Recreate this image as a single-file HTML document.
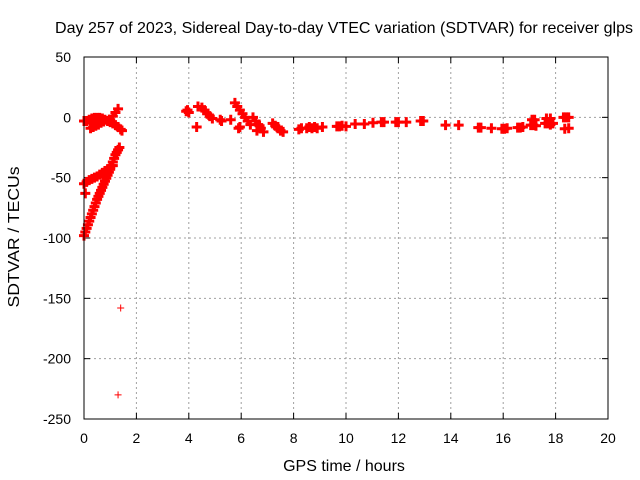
<!DOCTYPE html>
<html><head><meta charset="utf-8"><style>
body{margin:0;background:#fff}
svg{display:block;font-family:"Liberation Sans",Arial,sans-serif}
</style></head><body>
<svg id="chart" width="640" height="480" viewBox="0 0 640 480">
<rect width="640" height="480" fill="#fff"/>
<text x="344" y="33" font-size="16" text-anchor="middle" fill="#000" textLength="578" lengthAdjust="spacingAndGlyphs">Day 257 of 2023, Sidereal Day-to-day VTEC variation (SDTVAR) for receiver glps</text>
<g id="grid"></g>
<g id="ticks"></g>
<g id="points"></g>
<rect x="84" y="57" width="524" height="362" fill="none" stroke="#000" stroke-width="1"/>
<text x="19" y="237" font-size="16" text-anchor="middle" textLength="141" lengthAdjust="spacingAndGlyphs" transform="rotate(-90 19 237)">SDTVAR / TECUs</text>
<text x="344" y="471" font-size="16" text-anchor="middle">GPS time / hours</text>
</svg>
<script>
const xTicks=[0,2,4,6,8,10,12,14,16,18,20];
const yTicks=[50,0,-50,-100,-150,-200,-250];
const hours=[
0,0.05,0.1,0.15,0.2,0.25,0.3,0.35,0.4,0.45,0.5,0.55,0.6,0.65,0.7,0.75,0.8,0.85,0.9,0.95,1.0,1.05,1.1,1.15,1.2,1.25,1.3,1.35,
0,0.1,0.2,0.3,0.4,0.5,0.6,0.7,0.8,0.9,1.0,1.1,
0,0.1,0.2,0.3,0.4,0.5,0.6,0.7,0.8,0.9,1.0,1.1,1.2,1.3,1.4,1.45,
0.25,0.35,0.45,0.55,0.65,0.75,
1.0,1.1,1.2,1.3,
0.05,1.4,1.3,
3.9,3.95,4.0,4.3,4.35,4.5,4.6,4.7,4.8,4.9,5.2,5.25,5.6,
5.76,5.85,5.95,6.05,6.15,6.25,6.35,5.9,5.95,
6.45,6.55,6.65,6.75,6.85,6.6,6.7,
7.2,7.3,7.4,7.5,7.6,7.4,
8.2,8.3,8.5,8.6,8.7,8.8,8.9,9.1,9.65,9.75,9.85,10.0,10.35,10.7,11.03,11.35,11.45,11.9,12.0,12.3,12.85,12.95,
13.8,14.3,15.05,15.15,15.55,15.95,16.05,16.15,16.55,16.65,16.75,17.05,17.15,17.25,17.1,17.2,17.6,17.7,17.8,17.9,17.65,17.8,18.3,18.4,18.5,18.35,18.5];
const values=[
-98,-95,-92,-89,-86,-83,-80,-77,-74,-71,-68,-65.5,-63,-60.5,-58,-55.5,-53,-50.5,-48,-45.5,-43,-40,-37,-34,-31,-29,-27,-25,
-55,-53.5,-52,-51,-50,-49,-47.5,-46,-44.5,-43,-41.5,-40,
-3,-3,-2,-1,-0.5,-0.5,-0.5,-1,-2,-3,-4,-5,-6.5,-8,-10,-11,
-9,-8,-7,-6,-4.5,-3.5,
-2,1,4,7,
-63,-158,-230,
5,6,4,-8,9,8,6,3,1,-1,-2,-3,-2,
12,9,6,3,0,-3,-6,-9,-8,
0,-3,-6,-9,-12,-11,-7,
-5,-7,-9,-11,-12,-8,
-10,-9,-9,-8,-9,-8,-9,-8,-7.5,-7.5,-7,-7.5,-5.5,-5.5,-4.5,-4,-4,-4,-4,-4,-3,-3,
-6.5,-6.5,-8.5,-8.5,-9,-9.5,-9.5,-9,-8.5,-8.5,-8,-6.5,-6.5,-7,-2,-2,-5,-5,-6,-5,-1,-1,0,0,0,-9.5,-9];
const X0=84,X1=608,Y0=419,Y1=57;
const xs=h=>X0+(h-0)/(20-0)*(X1-X0);
const ys=v=>Y0-(v-(-250))/(50-(-250))*(Y0-Y1);
const NS='http://www.w3.org/2000/svg';
const grid=document.getElementById('grid'),ticks=document.getElementById('ticks'),pts=document.getElementById('points');
function mk(t,a,p){const e=document.createElementNS(NS,t);for(const k in a)e.setAttribute(k,a[k]);p.appendChild(e);return e;}
xTicks.forEach(t=>{
 const x=xs(t);
 if(t>0&&t<20){const g=mk('line',{x1:x,x2:x,y1:Y1,y2:Y0,stroke:'#a0a0a0','stroke-dasharray':'2,3'},grid);
 
 }
 const a=mk('line',{x1:x,x2:x,y1:Y0,y2:Y0-6,stroke:'#000'},ticks);
 
 
 const b=mk('line',{x1:x,x2:x,y1:Y1,y2:Y1+6,stroke:'#000'},ticks);
 
 
 const l=mk('text',{x:x,y:443,'font-size':14,'text-anchor':'middle'},ticks);l.textContent=t;
 
 
});
yTicks.forEach(t=>{
 const y=ys(t);
 if(t<50&&t>-250){const g=mk('line',{x1:X0,x2:X1,y1:y,y2:y,stroke:'#a0a0a0','stroke-dasharray':'2,3'},grid);
 
 }
 const a=mk('line',{x1:X0,x2:X0+6,y1:y,y2:y,stroke:'#000'},ticks);
 
 
 const b=mk('line',{x1:X1,x2:X1-6,y1:y,y2:y,stroke:'#000'},ticks);
 
 
 const l=mk('text',{x:71,y:y+5,'font-size':14,'text-anchor':'end'},ticks);l.textContent=t;
 
 
});
hours.forEach((h,i)=>{
 const x=xs(h),y=ys(values[i]);
 const thin=(i===67||i===68);
 const s=thin?3.5:5;
 const p=mk('path',{d:`M${x-s},${y}h${2*s}M${x},${y-s}v${2*s}`,stroke:'#f00','stroke-width':thin?1:3},pts);
 
 
});
</script>
</body></html>
